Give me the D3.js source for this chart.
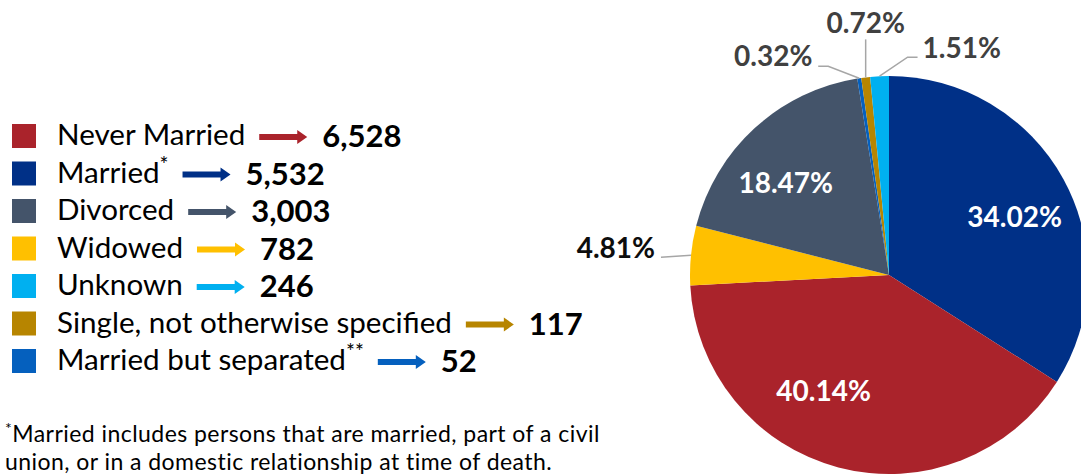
<!DOCTYPE html>
<html>
<head>
<meta charset="utf-8">
<script src="https://cdn.jsdelivr.net/npm/d3@7"></script>
<style>
  html, body { margin: 0; padding: 0; background: #ffffff; }
  svg { display: block; }
  text { font-family: Lato, "Open Sans", sans-serif; }
</style>
</head>
<body>
<svg id="chart" width="1081" height="475"></svg>
<script>
// Marital status at time of death: counts (legend) and shares (pie)
const legendCategories = ["Never Married", "Married", "Divorced", "Widowed", "Unknown",
  "Single, not otherwise specified", "Married but separated"];
const legendCounts = [6528, 5532, 3003, 782, 246, 117, 52];
const legendMarks = ["", "*", "", "", "", "", "**"];

const pieCategories = ["Married", "Never Married", "Widowed", "Divorced",
  "Married but separated", "Single, not otherwise specified", "Unknown"];
const piePercents = [34.02, 40.14, 4.81, 18.47, 0.32, 0.72, 1.51];

const footnoteLines = [
  "Married includes persons that are married, part of a civil",
  "union, or in a domestic relationship at time of death."
];

const color = d3.scaleOrdinal()
  .domain(["Never Married", "Married", "Divorced", "Widowed", "Unknown",
    "Single, not otherwise specified", "Married but separated"])
  .range(["#AA232B", "#003087", "#44546A", "#FFC000", "#00B0F0", "#B78500", "#0560BE"]);

const svg = d3.select("#chart");

// ---------- Legend ----------
const legend = svg.append("g");
const rowY = d3.scaleLinear().domain([0, legendCategories.length - 1]).range([145, 370]);
const fmt = d3.format(",");

legendCategories.forEach((cat, i) => {
  const y = rowY(i);
  const row = legend.append("g");
  row.append("rect")
    .attr("x", 12).attr("y", y - 21)
    .attr("width", 24).attr("height", 24)
    .attr("fill", color(cat));
  const label = row.append("text")
    .attr("x", 57).attr("y", y)
    .attr("font-size", 29.6)
    .attr("fill", "#000");
  label.append("tspan").text(cat);
  if (legendMarks[i]) {
    label.append("tspan")
      .attr("font-size", 21)
      .attr("dy", -11)
      .text(legendMarks[i]);
  }
  const w = label.node().getComputedTextLength();
  const ax = 57 + w + 14;
  const ay = y - 8;
  const len = 48;
  // block arrow pointing right
  row.append("path")
    .attr("d", `M${ax},${ay - 3} H${ax + len - 10} V${ay - 7} L${ax + len},${ay} L${ax + len - 10},${ay + 7} V${ay + 3} H${ax} Z`)
    .attr("fill", color(cat));
  row.append("text")
    .attr("x", ax + len + 15).attr("y", y + 2)
    .attr("font-size", 31)
    .attr("font-weight", 700)
    .attr("fill", "#000")
    .text(fmt(legendCounts[i]));
});

// ---------- Footnote ----------
const foot = svg.append("text")
  .attr("x", 5).attr("y", 442)
  .attr("font-size", 23)
  .attr("letter-spacing", 0.45)
  .attr("fill", "#000");
foot.append("tspan").attr("font-size", 16).attr("dy", -8).text("*");
foot.append("tspan").attr("dy", 8).text(footnoteLines[0]);
svg.append("text")
  .attr("x", 5).attr("y", 470)
  .attr("font-size", 23)
  .attr("letter-spacing", 0.45)
  .attr("fill", "#000")
  .text(footnoteLines[1]);

// ---------- Pie ----------
const cx = 889, cy = 275, r = 199;
const pieData = pieCategories.map((c, i) => ({ cat: c, pct: piePercents[i] }));
const arcs = d3.pie().sort(null).value(d => d.pct)(pieData);
const arc = d3.arc().innerRadius(0).outerRadius(r);
const labelArc = d3.arc().innerRadius(r * 0.68).outerRadius(r * 0.68);

const pieG = svg.append("g").attr("transform", `translate(${cx},${cy})`);
pieG.selectAll("path.slice")
  .data(arcs)
  .join("path")
  .attr("class", "slice")
  .attr("d", arc)
  .attr("fill", d => color(d.data.cat));

const pctText = d => d.data.pct.toFixed(2) + "%";

// labels inside the larger slices
const insideNudge = { "Married": [7, 7], "Never Married": [-31, -15], "Divorced": [-12, 8] };
pieG.selectAll("text.inside")
  .data(arcs.filter(d => insideNudge[d.data.cat]))
  .join("text")
  .attr("class", "inside")
  .attr("transform", d => {
    const [x, y] = labelArc.centroid(d);
    const [nx, ny] = insideNudge[d.data.cat];
    return `translate(${x + nx},${y + ny})`;
  })
  .attr("text-anchor", "middle")
  .attr("dy", "0.36em")
  .attr("font-size", 28)
  .attr("font-weight", 700)
  .attr("fill", "#fff")
  .text(pctText);

// labels outside the small slices, with leader lines
const edgePoint = d => {
  const a = (d.startAngle + d.endAngle) / 2;
  return [r * Math.sin(a), -r * Math.cos(a)];
};
const outside = {
  "Widowed": { label: [-36, -7], anchor: "end", fill: "#0D0D0D", line: [[-30, 2]] },
  "Married but separated": { label: [-86, -22], anchor: "middle", fill: "#404040", line: [[-41, -12], [-31, -12]] },
  "Single, not otherwise specified": { label: [0, -54], anchor: "middle", fill: "#404040", line: [[0, -38]] },
  "Unknown": { label: [43, -28], anchor: "start", fill: "#404040", line: [[38, -19], [28, -19]] }
};
arcs.filter(d => outside[d.data.cat]).forEach(d => {
  const o = outside[d.data.cat];
  const [ex, ey] = edgePoint(d);
  const pts = o.line.map(([dx, dy]) => [ex + dx, ey + dy]).concat([[ex, ey]]);
  pieG.append("path")
    .attr("d", d3.line()(pts))
    .attr("fill", "none")
    .attr("stroke", "#A6A6A6")
    .attr("stroke-width", 1.5);
  pieG.append("text")
    .attr("x", ex + o.label[0]).attr("y", ey + o.label[1])
    .attr("text-anchor", o.anchor)
    .attr("dy", "0.36em")
    .attr("font-size", 28)
    .attr("font-weight", 700)
    .attr("fill", o.fill)
    .text(pctText(d));
});
</script>
</body>
</html>
